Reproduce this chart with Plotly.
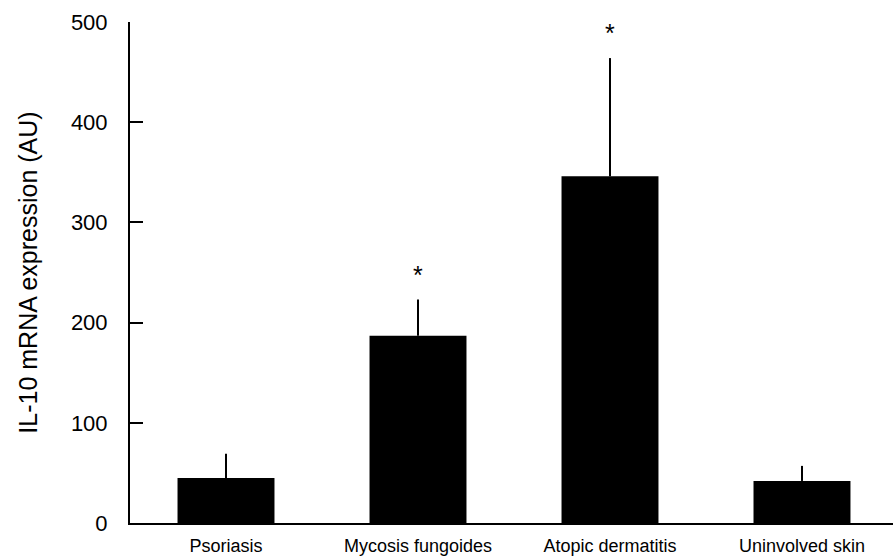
import plotly.graph_objects as go

categories = ["Psoriasis", "Mycosis fungoides", "Atopic dermatitis", "Uninvolved skin"]
means = [45, 187, 346, 42]
errors = [24, 36, 118, 15]
significant = [False, True, True, False]
y_ticks = [0, 100, 200, 300, 400, 500]

FONT = "Liberation Sans, Arial, sans-serif"

fig = go.Figure()
fig.add_trace(go.Bar(
    x=categories, y=means,
    marker=dict(color="black", line=dict(width=0)),
    width=0.505,
    error_y=dict(type="data", array=errors, arrayminus=[0] * len(errors),
                 symmetric=False, color="black", thickness=2, width=0),
    showlegend=False,
))

for c, m, e, s in zip(categories, means, errors, significant):
    if s:
        fig.add_annotation(x=c, y=m + e, text="*", showarrow=False,
                           yshift=25, font=dict(size=25, color="black", family=FONT))

fig.update_layout(
    width=893, height=557,
    margin=dict(l=130, r=0, t=22, b=34, autoexpand=False),
    plot_bgcolor="white", paper_bgcolor="white",
    font=dict(family=FONT, color="black"),
    bargap=0.5,
)
fig.update_xaxes(
    range=[-0.5, 3.474], showline=True, linecolor="black", linewidth=2,
    ticks="", showgrid=False, tickfont=dict(size=18), ticklabelstandoff=5,
    automargin=False,
)
fig.update_yaxes(
    range=[0, 500], tickvals=y_ticks, showline=True, linecolor="black", linewidth=2,
    ticks="inside", ticklen=13, tickwidth=2, tickcolor="black", showgrid=False,
    zeroline=False, tickfont=dict(size=22), ticklabelstandoff=16, automargin=False,
    title=dict(text="IL-10 mRNA expression (AU)", font=dict(size=25), standoff=26),
)

fig.write_html("out.html", config={"displayModeBar": False},
               post_script="document.body.style.margin='0px';")
